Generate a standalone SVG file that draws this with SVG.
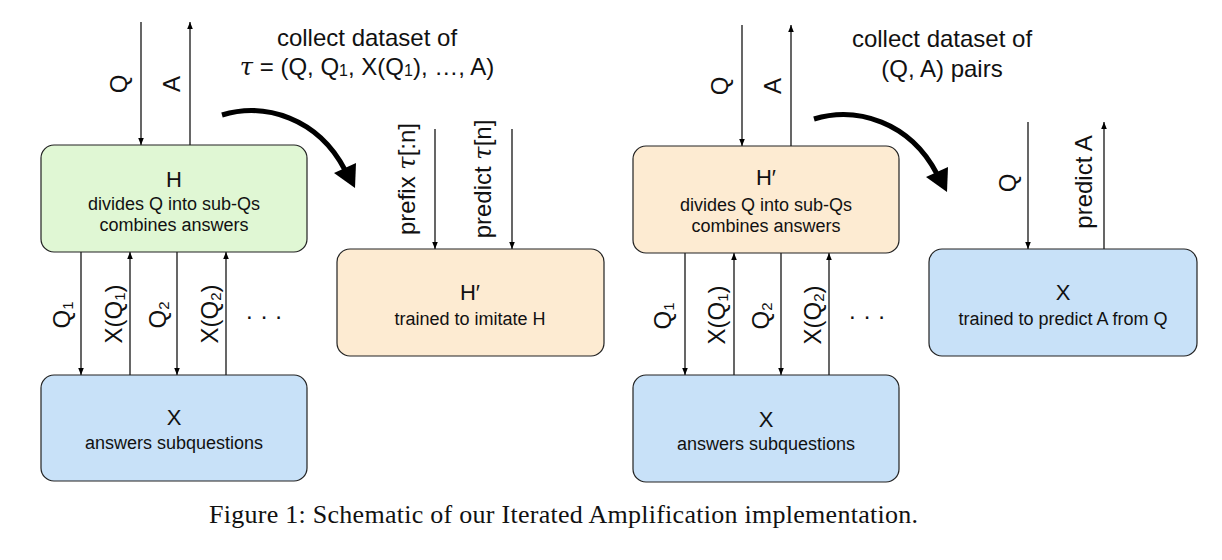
<svg xmlns="http://www.w3.org/2000/svg" width="1222" height="560" viewBox="0 0 1222 560">
<defs>
<marker id="ah" viewBox="0 0 10 10" refX="10" refY="5" markerWidth="7" markerHeight="7" markerUnits="userSpaceOnUse" orient="auto"><path d="M0,1 L10,5 L0,9 z" fill="#000"/></marker>
<style>
text{font-family:"Liberation Sans",Arial,sans-serif;fill:#111}
.box{stroke:#222;stroke-width:1.2}
.green{fill:#e0f7d4}
.peach{fill:#fdebd2}
.blue{fill:#c8e1f8}
.big{font-size:22px;text-anchor:middle}
.sm{font-size:18px;text-anchor:middle}
.lab{font-size:24px;text-anchor:middle}
.ttl{font-size:24px;text-anchor:middle}
.ln{stroke:#000;stroke-width:1.2;fill:none;marker-end:url(#ah)}
.dots{font-size:24px;letter-spacing:8px}
.tau{font-family:"DejaVu Serif","Liberation Serif",serif;font-style:italic}
.thick{stroke:#000;stroke-width:5;fill:none}
.cap{font-family:"Liberation Serif","Times New Roman",serif;font-size:26px}
</style>
</defs>
<rect width="1222" height="560" fill="#fff"/>

<g id="connectors">
  <line class="ln" x1="141" y1="22" x2="141" y2="145"/>
  <line class="ln" x1="190" y1="145" x2="190" y2="22"/>
  <line class="ln" x1="81" y1="252" x2="81" y2="375"/>
  <line class="ln" x1="130" y1="375" x2="130" y2="252"/>
  <line class="ln" x1="177" y1="252" x2="177" y2="375"/>
  <line class="ln" x1="226" y1="375" x2="226" y2="252"/>
  <line class="ln" x1="435" y1="129" x2="435" y2="249"/>
  <line class="ln" x1="512" y1="129" x2="512" y2="249"/>
  <line class="ln" x1="742" y1="25" x2="742" y2="146"/>
  <line class="ln" x1="791" y1="146" x2="791" y2="25"/>
  <line class="ln" x1="685" y1="253" x2="685" y2="375"/>
  <line class="ln" x1="734" y1="375" x2="734" y2="253"/>
  <line class="ln" x1="781" y1="253" x2="781" y2="375"/>
  <line class="ln" x1="829" y1="375" x2="829" y2="253"/>
  <line class="ln" x1="1028" y1="122" x2="1028" y2="249"/>
  <line class="ln" x1="1104" y1="249" x2="1104" y2="122"/>
  <g id="curve-left">
    <path class="thick" d="M222,115 C265,102 318,118 345,170"/>
    <polygon points="334,173 356,163 355,188" fill="#000"/>
  </g>
  <g id="curve-right" transform="translate(592,4)">
    <path class="thick" d="M222,115 C265,102 318,118 345,170"/>
    <polygon points="334,173 356,163 355,188" fill="#000"/>
  </g>
</g>

<g id="labels">
  <text class="lab" transform="translate(127,84) rotate(-90)">Q</text>
  <text class="lab" transform="translate(180,84) rotate(-90)">A</text>
  <text class="lab" transform="translate(70,315) rotate(-90)">Q<tspan font-size="15" dy="3">1</tspan></text>
  <text class="lab" transform="translate(122,314) rotate(-90)">X(Q<tspan font-size="15" dy="3">1</tspan><tspan dy="-3">)</tspan></text>
  <text class="lab" transform="translate(166,315) rotate(-90)">Q<tspan font-size="15" dy="3">2</tspan></text>
  <text class="lab" transform="translate(218,314) rotate(-90)">X(Q<tspan font-size="15" dy="3">2</tspan><tspan dy="-3">)</tspan></text>
  <text class="dots" x="246" y="319">...</text>

  <text class="lab" transform="translate(415,179) rotate(-90)">prefix <tspan class="tau">τ</tspan>[:n]</text>
  <text class="lab" transform="translate(491,179) rotate(-90)">predict <tspan class="tau">τ</tspan>[n]</text>

  <text class="lab" transform="translate(728,86) rotate(-90)">Q</text>
  <text class="lab" transform="translate(781,86) rotate(-90)">A</text>
  <text class="lab" transform="translate(671,316) rotate(-90)">Q<tspan font-size="15" dy="3">1</tspan></text>
  <text class="lab" transform="translate(725,315) rotate(-90)">X(Q<tspan font-size="15" dy="3">1</tspan><tspan dy="-3">)</tspan></text>
  <text class="lab" transform="translate(769,316) rotate(-90)">Q<tspan font-size="15" dy="3">2</tspan></text>
  <text class="lab" transform="translate(821,315) rotate(-90)">X(Q<tspan font-size="15" dy="3">2</tspan><tspan dy="-3">)</tspan></text>
  <text class="dots" x="849" y="319">...</text>

  <text class="lab" transform="translate(1016,183) rotate(-90)">Q</text>
  <text class="lab" transform="translate(1092,182) rotate(-90)">predict A</text>

  <text class="ttl" x="367" y="46">collect dataset of</text>
  <text class="ttl" x="367" y="75"><tspan class="tau">τ</tspan> = (Q, Q<tspan font-size="16" dy="1">1</tspan><tspan dy="-1">, X(Q</tspan><tspan font-size="16" dy="1">1</tspan><tspan dy="-1">), …, A)</tspan></text>
  <text class="ttl" x="942" y="47">collect dataset of</text>
  <text class="ttl" x="942" y="77">(Q, A) pairs</text>
</g>

<g id="node-H">
  <rect class="box green" x="41" y="145" width="266" height="107" rx="13"/>
  <text class="big" x="174" y="187">H</text>
  <text class="sm" x="174" y="210">divides Q into sub-Qs</text>
  <text class="sm" x="174" y="231">combines answers</text>
</g>
<g id="node-X-left">
  <rect class="box blue" x="41" y="375" width="266" height="106" rx="13"/>
  <text class="big" x="174" y="425">X</text>
  <text class="sm" x="174" y="449">answers subquestions</text>
</g>
<g id="node-Hprime-mid">
  <rect class="box peach" x="337" y="249" width="267" height="107" rx="13"/>
  <text class="big" x="470" y="300">H′</text>
  <text class="sm" x="470" y="325">trained to imitate H</text>
</g>
<g id="node-Hprime-right">
  <rect class="box peach" x="633" y="146" width="266" height="107" rx="13"/>
  <text class="big" x="766" y="185">H′</text>
  <text class="sm" x="766" y="211">divides Q into sub-Qs</text>
  <text class="sm" x="766" y="232">combines answers</text>
</g>
<g id="node-X-right">
  <rect class="box blue" x="633" y="375" width="266" height="107" rx="13"/>
  <text class="big" x="766" y="427">X</text>
  <text class="sm" x="766" y="450">answers subquestions</text>
</g>
<g id="node-X-far">
  <rect class="box blue" x="929" y="249" width="268" height="107" rx="13"/>
  <text class="big" x="1063" y="300">X</text>
  <text class="sm" x="1063" y="325">trained to predict A from Q</text>
</g>

<text class="cap" x="209" y="523" textLength="709" lengthAdjust="spacing">Figure 1: Schematic of our Iterated Amplification implementation.</text>
</svg>
